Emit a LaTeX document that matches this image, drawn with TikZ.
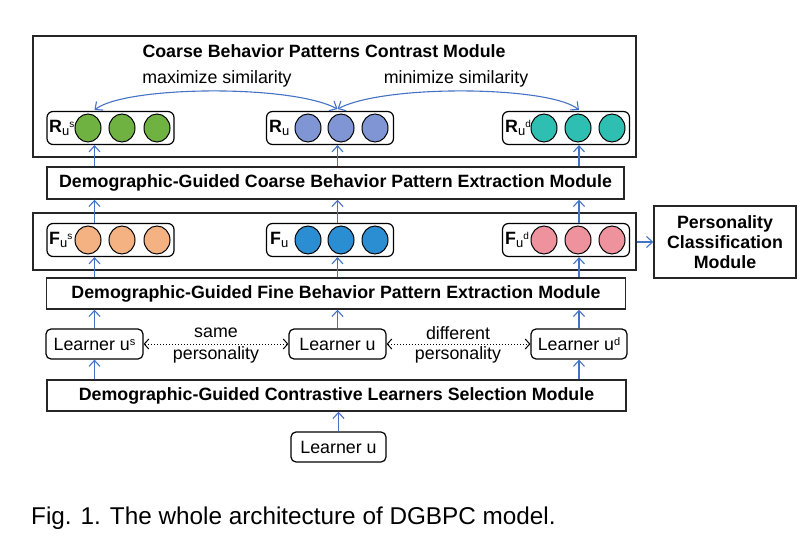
\documentclass[tikz,border=0pt]{standalone}
\usepackage{fontspec}
\setmainfont{Liberation Sans}
\usetikzlibrary{arrows.meta,shapes.geometric}
\definecolor{arrowblue}{RGB}{68,114,196}
\definecolor{cgreen}{RGB}{112,178,66}
\definecolor{cviolet}{RGB}{128,150,212}
\definecolor{cteal}{RGB}{46,191,178}
\definecolor{corange}{RGB}{244,178,130}
\definecolor{cblue}{RGB}{44,142,210}
\definecolor{cpink}{RGB}{238,146,158}
\newcommand\glab[2]{\textbf{#1}\raisebox{-3.5pt}{\fontsize{13}{13}\selectfont u}\raisebox{5pt}{\fontsize{10}{10}\selectfont #2}}
\newcommand\supl[1]{\raisebox{5pt}{\fontsize{11}{11}\selectfont #1}}
\tikzset{
 arr/.style={-{Straight Barb[length=6pt,width=11pt]}, draw=arrowblue, line width=1.1pt},
 darr/.style={{Straight Barb[length=6pt,width=11pt]}-{Straight Barb[length=6pt,width=11pt]}, draw=arrowblue, line width=1.1pt},
 dotarr/.style={{Straight Barb[length=4.5pt,width=10pt]}-{Straight Barb[length=4.5pt,width=10pt]}, draw=black, line width=1pt, dotted},
 bigbox/.style={draw=black!85, line width=1.4pt, inner sep=0pt},
 grp/.style={draw=black, line width=1.2pt, rounded corners=6pt, minimum width=127pt, minimum height=33pt, inner sep=0pt},
 dot/.style={ellipse, draw=black, line width=1pt, minimum width=26pt, minimum height=28pt, inner sep=0pt},
 lbox/.style={draw=black, line width=1.2pt, rounded corners=5pt, minimum width=97pt, minimum height=30pt, inner sep=0pt},
 bt/.style={font=\fontsize{17.8}{21}\selectfont\bfseries},
 rt/.style={font=\fontsize{17.8}{21}\selectfont},
 lab/.style={inner sep=0pt, anchor=west, font=\fontsize{17.8}{21}\selectfont},
}
\begin{document}
\begin{tikzpicture}[x=1pt,y=-1pt]
\useasboundingbox (0,0) rectangle (810,540);
% boxes
\node[bigbox, minimum width=603pt, minimum height=121pt] (top) at (334.5,96.5) {};
\node[bt] (title) at (324,51) {Coarse Behavior Patterns Contrast Module};
\node[rt] (maxs) at (217,79) {maximize similarity};
\node[rt] (mins) at (456,79) {minimize similarity};
\node[bigbox, bt, minimum width=577pt, minimum height=32pt] (coarse) at (335.5,183) {Demographic-Guided Coarse Behavior Pattern Extraction Module};
\node[bigbox, minimum width=603pt, minimum height=57pt] (fcont) at (334.5,241.5) {};
\node[bigbox, bt, minimum width=142pt, minimum height=72pt, align=center] (pcm) at (725,242) {Personality\\[-1pt]Classification\\[-1pt]Module};
\node[bigbox, bt, minimum width=579pt, minimum height=31pt] (fine) at (336,293.5) {Demographic-Guided Fine Behavior Pattern Extraction Module};
\node[bigbox, bt, minimum width=579pt, minimum height=31pt] (sel) at (336.5,395.5) {Demographic-Guided Contrastive Learners Selection Module};
% learners
\node[lbox, rt] (ls) at (94.5,344) {Learner u\supl{s}};
\node[lbox, rt] (lu) at (337.5,344) {Learner u};
\node[lbox, rt, minimum width=96pt] (ld) at (579,344) {Learner u\supl{d}};
\node[lbox, rt, minimum width=95pt] (lb) at (338.5,447) {Learner u};
\node[rt] (same1) at (216,333) {same};
\node[rt] (same2) at (216,355) {personality};
\node[rt] (diff1) at (458,333) {different};
\node[rt] (diff2) at (458,355) {personality};
% R groups
\node[grp] (rus) at (110.5,128) {};
\node[dot, fill=cgreen] (rus1) at (88,128) {};
\node[dot, fill=cgreen] (rus2) at (122,128) {};
\node[dot, fill=cgreen] (rus3) at (157,128) {};
\node[lab] (rusl) at (49,128) {\glab{R}{s}};
\node[grp] (ru) at (330,128) {};
\node[dot, fill=cviolet] (ru1) at (308,128) {};
\node[dot, fill=cviolet] (ru2) at (341,128) {};
\node[dot, fill=cviolet] (ru3) at (375,128) {};
\node[lab] (rul) at (269,128) {\glab{R}{}};
\node[grp] (rud) at (566,128) {};
\node[dot, fill=cteal] (rud1) at (544,128) {};
\node[dot, fill=cteal] (rud2) at (578,128) {};
\node[dot, fill=cteal] (rud3) at (612,128) {};
\node[lab] (rudl) at (505,128) {\glab{R}{d}};
% F groups
\node[grp] (fus) at (110.5,240) {};
\node[dot, fill=corange] (fus1) at (88,240) {};
\node[dot, fill=corange] (fus2) at (122,240) {};
\node[dot, fill=corange] (fus3) at (157,240) {};
\node[lab] (fusl) at (49,240) {\glab{F}{s}};
\node[grp] (fu) at (330,240) {};
\node[dot, fill=cblue] (fu1) at (308,240) {};
\node[dot, fill=cblue] (fu2) at (341,240) {};
\node[dot, fill=cblue] (fu3) at (375,240) {};
\node[lab] (ful) at (270,240) {\glab{F}{}};
\node[grp] (fud) at (566,240) {};
\node[dot, fill=cpink] (fud1) at (544,240) {};
\node[dot, fill=cpink] (fud2) at (578,240) {};
\node[dot, fill=cpink] (fud3) at (612,240) {};
\node[lab] (fudl) at (505,240) {\glab{F}{d}};
% arrows
\draw[arr] (lb.north) -- (sel.south -| lb.north);
\draw[arr] (sel.north -| ls.south) -- (ls.south);
\draw[arr] (sel.north -| ld.south) -- (ld.south);
\foreach \n in {ls,lu,ld}{
  \draw[arr] (\n.north) -- (fine.south -| \n.north);
  \draw[arr] (fine.north -| \n.north) -- (fus.south -| \n.north);
  \draw[arr] (fus.north -| \n.north) -- (coarse.south -| \n.north);
  \draw[arr] (coarse.north -| \n.north) -- (rus.south -| \n.north);
}
\draw[arr] (fcont.east |- pcm.west) -- (pcm.west);
\draw[dotarr] (ls.east) -- (lu.west);
\draw[dotarr] (lu.east) -- (ld.west);
\coordinate (cL) at (94.5,110);
\coordinate (cM) at (337.5,109);
\coordinate (cR) at (579,110);
\draw[darr] (cL) .. controls (125,86) and (290,84) .. (cM);
\draw[darr] (cM) .. controls (385,84) and (550,86) .. (cR);
% caption
\node[inner sep=0pt, anchor=west, font=\fontsize{24.3}{28}\selectfont] (cap) at (31,518) {Fig. 1. The whole architecture of DGBPC model.};
\end{tikzpicture}
\end{document}
